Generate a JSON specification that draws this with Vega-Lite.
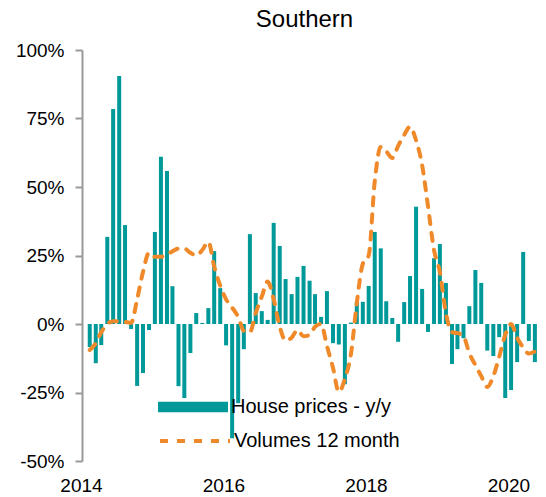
{
  "$schema": "https://vega.github.io/schema/vega-lite/v6.json",
  "autosize": {"type": "none"},
  "width": 461,
  "height": 411,
  "padding": {"left": 82, "top": 50, "right": 3, "bottom": 36},
  "background": "white",
  "config": {
    "view": {"stroke": null},
    "font": "Liberation Sans",
    "axis": {"labelFont": "Liberation Sans", "labelColor": "#000000", "labelFontSize": 19, "grid": false, "title": null},
    "legend": {"labelFont": "Liberation Sans", "labelColor": "#000000", "labelFontSize": 20, "labelLimit": 0}
  },
  "title": {"text": "Southern", "fontSize": 24, "font": "Liberation Sans", "fontWeight": "normal", "color": "#000000", "anchor": "middle", "offset": 9, "dx": -8},
  "data": {"values": [
    {"date": "2014-01-15", "price": -8.4, "volume": -9.5},
    {"date": "2014-02-15", "price": -14.3, "volume": -7},
    {"date": "2014-03-15", "price": -7.7, "volume": -3},
    {"date": "2014-04-15", "price": 31.8, "volume": 0},
    {"date": "2014-05-15", "price": 78.5, "volume": 1},
    {"date": "2014-06-15", "price": 90.5, "volume": 1},
    {"date": "2014-07-15", "price": 36.1, "volume": 0.8},
    {"date": "2014-08-15", "price": -1.8, "volume": 0.4},
    {"date": "2014-09-15", "price": -22.6, "volume": 9},
    {"date": "2014-10-15", "price": -17.9, "volume": 19},
    {"date": "2014-11-15", "price": -2.2, "volume": 26},
    {"date": "2014-12-15", "price": 33.6, "volume": 24.5},
    {"date": "2015-01-15", "price": 61, "volume": 24.5},
    {"date": "2015-02-15", "price": 55.8, "volume": 25.5},
    {"date": "2015-03-15", "price": 13.8, "volume": 26.5},
    {"date": "2015-04-15", "price": -22.7, "volume": 27.5},
    {"date": "2015-05-15", "price": -27, "volume": 27.5},
    {"date": "2015-06-15", "price": -10.6, "volume": 26},
    {"date": "2015-07-15", "price": 4, "volume": 25},
    {"date": "2015-08-15", "price": 0.4, "volume": 27},
    {"date": "2015-09-15", "price": 5.8, "volume": 30},
    {"date": "2015-10-15", "price": 26.6, "volume": 21},
    {"date": "2015-11-15", "price": 13.1, "volume": 14},
    {"date": "2015-12-15", "price": -7.8, "volume": 9},
    {"date": "2016-01-15", "price": -41.7, "volume": 6},
    {"date": "2016-02-15", "price": -28.9, "volume": 2.6},
    {"date": "2016-03-15", "price": -9.2, "volume": -2.5},
    {"date": "2016-04-15", "price": 32.8, "volume": -3},
    {"date": "2016-05-15", "price": 11.3, "volume": 4},
    {"date": "2016-06-15", "price": 4.7, "volume": 10},
    {"date": "2016-07-15", "price": 1.5, "volume": 15.5},
    {"date": "2016-08-15", "price": 36.9, "volume": 9},
    {"date": "2016-09-15", "price": 28.5, "volume": -1},
    {"date": "2016-10-15", "price": 16.4, "volume": -6},
    {"date": "2016-11-15", "price": 10.9, "volume": -5},
    {"date": "2016-12-15", "price": 17.2, "volume": -2.2},
    {"date": "2017-01-15", "price": 21.2, "volume": -4.5},
    {"date": "2017-02-15", "price": 15.8, "volume": -4},
    {"date": "2017-03-15", "price": 10.9, "volume": -1},
    {"date": "2017-04-15", "price": 2.6, "volume": 0},
    {"date": "2017-05-15", "price": 12, "volume": -8},
    {"date": "2017-06-15", "price": -7, "volume": -16},
    {"date": "2017-07-15", "price": -7.5, "volume": -24.8},
    {"date": "2017-08-15", "price": -22, "volume": -20},
    {"date": "2017-09-15", "price": 0.5, "volume": -11},
    {"date": "2017-10-15", "price": 8.1, "volume": 7.6},
    {"date": "2017-11-15", "price": 8.1, "volume": 22},
    {"date": "2017-12-15", "price": 13.9, "volume": 25},
    {"date": "2018-01-15", "price": 33.6, "volume": 52},
    {"date": "2018-02-15", "price": 27.6, "volume": 64.6},
    {"date": "2018-03-15", "price": 8.3, "volume": 63},
    {"date": "2018-04-15", "price": 2.2, "volume": 60.6},
    {"date": "2018-05-15", "price": -6.5, "volume": 65},
    {"date": "2018-06-15", "price": 8, "volume": 69},
    {"date": "2018-07-15", "price": 17.5, "volume": 72},
    {"date": "2018-08-15", "price": 42.8, "volume": 67},
    {"date": "2018-09-15", "price": 12.8, "volume": 58},
    {"date": "2018-10-15", "price": -2.9, "volume": 43},
    {"date": "2018-11-15", "price": 24, "volume": 27},
    {"date": "2018-12-15", "price": 29.2, "volume": 19},
    {"date": "2019-01-15", "price": 15, "volume": 4},
    {"date": "2019-02-15", "price": -14.6, "volume": -3},
    {"date": "2019-03-15", "price": -9.2, "volume": -3.3},
    {"date": "2019-04-15", "price": -5.2, "volume": -4.5},
    {"date": "2019-05-15", "price": 6.5, "volume": -10.6},
    {"date": "2019-06-15", "price": 19.7, "volume": -15},
    {"date": "2019-07-15", "price": 15, "volume": -19},
    {"date": "2019-08-15", "price": -9.7, "volume": -23},
    {"date": "2019-09-15", "price": -11.7, "volume": -19},
    {"date": "2019-10-15", "price": -4.8, "volume": -12},
    {"date": "2019-11-15", "price": -27, "volume": -4},
    {"date": "2019-12-15", "price": -24.1, "volume": 0},
    {"date": "2020-01-15", "price": -13.9, "volume": -5},
    {"date": "2020-02-15", "price": 26.3, "volume": -8.5},
    {"date": "2020-03-15", "price": -6.2, "volume": -10.8},
    {"date": "2020-04-15", "price": -13.9, "volume": -10}
  ]},
  "encoding": {
    "x": {
      "field": "date", "type": "temporal",
      "scale": {"type": "utc", "domain": [{"year": 2014, "month": 1, "date": 1, "utc": true}, {"year": 2020, "month": 5, "date": 1, "utc": true}]},
      "axis": {
        "values": [{"year": 2014, "month": 1, "date": 1, "utc": true}, {"year": 2016, "month": 1, "date": 1, "utc": true}, {"year": 2018, "month": 1, "date": 1, "utc": true}, {"year": 2020, "month": 1, "date": 1, "utc": true}],
        "format": "%Y", "domain": false, "ticks": false, "labelPadding": 15, "labelOffset": -6, "labelFlush": false, "labelOverlap": false
      }
    }
  },
  "layer": [
    {
      "mark": {"type": "bar", "size": 4},
      "encoding": {
        "y": {
          "field": "price", "type": "quantitative",
          "scale": {"domain": [-50, 100], "nice": false, "zero": false},
          "axis": {"values": [-50, -25, 0, 25, 50, 75, 100], "labelExpr": "datum.value + '%'", "domainColor": "#999999", "domainWidth": 2, "tickColor": "#999999", "tickWidth": 2, "tickSize": 7, "labelPadding": 11}
        },
        "color": {
          "datum": "House prices - y/y",
          "scale": {"range": ["#009999"]},
          "legend": {"title": null, "orient": "none", "legendX": 76, "legendY": 322, "symbolType": "M-1,-0.15H1V0.15H-1Z", "symbolSize": 4900, "symbolStrokeWidth": 0, "symbolOpacity": 1, "labelOffset": 3}
        }
      }
    },
    {
      "mark": {"type": "rule", "color": "#999999", "strokeWidth": 2},
      "encoding": {"y": {"datum": 0}}
    },
    {
      "mark": {"type": "line", "strokeWidth": 4, "strokeDash": [8, 9], "strokeCap": "round", "interpolate": "monotone"},
      "encoding": {
        "y": {"field": "volume", "type": "quantitative"},
        "stroke": {
          "datum": "Volumes 12 month",
          "scale": {"range": ["#f0892a"]},
          "legend": {"title": null, "orient": "none", "legendX": 76, "legendY": 354, "symbolType": "stroke", "symbolSize": 4900, "symbolStrokeWidth": 4, "symbolDash": [8, 9], "labelOffset": 2}
        }
      }
    }
  ]
}
